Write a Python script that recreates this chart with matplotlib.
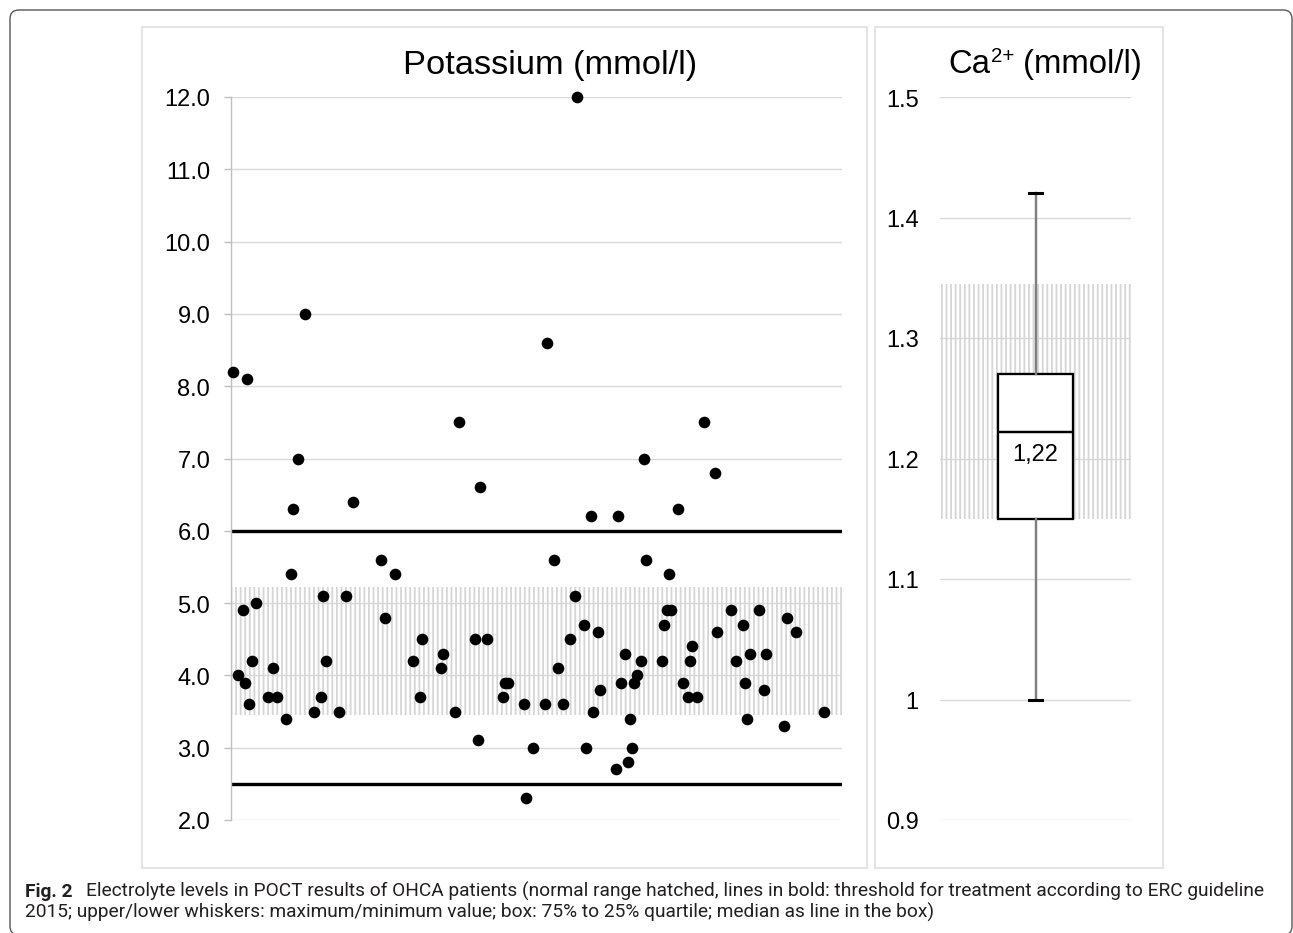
import numpy as np
import matplotlib
matplotlib.use("Agg")
import matplotlib.pyplot as plt
from matplotlib.patches import Rectangle, FancyBboxPatch

# Potassium (mmol/l) per patient, x = patient number
k_idx = [1, 3, 5, 6, 7, 8, 9, 11, 16, 18, 20, 24, 26, 27, 29, 32, 36, 39, 40, 41,
         47, 50, 53, 65, 67, 71, 79, 82, 83, 91, 92, 97, 99, 106, 107, 108, 111, 118, 119, 120,
         127, 128, 131, 136, 137, 140, 142, 144, 147, 149, 150, 153, 154, 156, 157, 159, 160, 167, 168, 169,
         171, 172, 173, 174, 175, 176, 178, 179, 180, 187, 188, 189, 190, 191, 194, 196, 198, 199, 200, 202,
         205, 210, 211, 217, 219, 222, 223, 224, 225, 229, 231, 232, 240, 241, 245, 257]
k_val = [8.2, 4.0, 4.9, 3.9, 8.1, 3.6, 4.2, 5.0, 3.7, 4.1, 3.7, 3.4, 5.4, 6.3, 7.0, 9.0, 3.5, 3.7, 5.1, 4.2,
         3.5, 5.1, 6.4, 5.6, 4.8, 5.4, 4.2, 3.7, 4.5, 4.1, 4.3, 3.5, 7.5, 4.5, 3.1, 6.6, 4.5, 3.7, 3.9, 3.9,
         3.6, 2.3, 3.0, 3.6, 8.6, 5.6, 4.1, 3.6, 4.5, 5.1, 12.0, 4.7, 3.0, 6.2, 3.5, 4.6, 3.8, 2.7, 6.2, 3.9,
         4.3, 2.8, 3.4, 3.0, 3.9, 4.0, 4.2, 7.0, 5.6, 4.2, 4.7, 4.9, 5.4, 4.9, 6.3, 3.9, 3.7, 4.2, 4.4, 3.7,
         7.5, 6.8, 4.6, 4.9, 4.2, 4.7, 3.9, 3.4, 4.3, 4.9, 3.8, 4.3, 3.3, 4.8, 4.6, 3.5]
k_normal = (3.45, 5.22)
k_limits = [6.0, 2.5]
k_ticks = [2.0, 3.0, 4.0, 5.0, 6.0, 7.0, 8.0, 9.0, 10.0, 11.0, 12.0]

# Ca2+ (mmol/l) box plot
ca_stats = {"whislo": 1.00, "q1": 1.15, "med": 1.222, "q3": 1.27, "whishi": 1.42}
ca_normal = (1.15, 1.345)
ca_ticks = [0.9, 1.0, 1.1, 1.2, 1.3, 1.4, 1.5]
ca_ticklabels = ["0.9", "1", "1.1", "1.2", "1.3", "1.4", "1.5"]
ca_median_label = "1,22"

caption_bold = "Fig. 2"
caption_1 = ("Electrolyte levels in POCT results of OHCA patients (normal range hatched, "
             "lines in bold: threshold for treatment according to ERC guideline")
caption_2 = ("2015; upper/lower whiskers: maximum/minimum value; box: 75% to 25% quartile; "
             "median as line in the box)")

plt.rcParams["font.family"] = ["Liberation Sans", "DejaVu Sans"]
plt.rcParams["hatch.linewidth"] = 1.2

W, H, DPI = 1293, 934, 110
fig = plt.figure(figsize=(W / DPI, H / DPI), dpi=DPI)
r = fig.canvas.get_renderer()


def px(x0, y0, x1, y1):
    return [x0 / W, 1 - y1 / H, (x1 - x0) / W, (y1 - y0) / H]


grid_col = "#d9d9d9"
hatch_col = "#d6d6d6"

# panel frames
for box in [(142, 28, 867, 869), (875, 28, 1163, 869)]:
    fig.add_artist(Rectangle(px(*box)[:2], px(*box)[2], px(*box)[3], transform=fig.transFigure,
                             fill=False, ec="#e4e4e4", lw=1.4))
fig.add_artist(FancyBboxPatch((10 / DPI, -2 / DPI), 1282 / DPI, 925 / DPI,
                              boxstyle="round,pad=0,rounding_size=0.08",
                              transform=fig.dpi_scale_trans, fill=False, ec="#555555", lw=0.9))

# potassium scatter
ax1 = fig.add_axes(px(231, 98, 842, 821))
ax1.set_xlim(0, 265)
ax1.set_ylim(2, 12)
ax1.fill_between([0, 265], k_normal[0], k_normal[1], facecolor="none", edgecolor=hatch_col,
                 hatch="||||", lw=0, zorder=1)
for lim in k_limits:
    ax1.axhline(lim, color="black", lw=2.2, zorder=2)
ax1.scatter(k_idx, k_val, s=58, c="black", zorder=3, clip_on=False, linewidths=0)
ax1.set_yticks(k_ticks)
ax1.set_yticklabels(["%.1f" % t for t in k_ticks])
ax1.set_xticks([])
ax1.grid(axis="y", color=grid_col, lw=0.9, zorder=0)
ax1.set_axisbelow(True)
for s in ["top", "right", "bottom"]:
    ax1.spines[s].set_visible(False)
ax1.spines["left"].set_color("#bfbfbf")
ax1.spines["left"].set_linewidth(0.9)
ax1.tick_params(axis="y", length=4.6, width=0.9, color="#bfbfbf", pad=9, labelsize=15.5)

# calcium box plot
ax2 = fig.add_axes(px(940, 98, 1131, 821))
ax2.set_xlim(0.5, 1.5)
ax2.set_ylim(0.9, 1.5)
ax2.fill_between([0.5, 1.5], ca_normal[0], ca_normal[1], facecolor="none", edgecolor=hatch_col,
                 hatch="||||", lw=0, zorder=1)
ax2.bxp([ca_stats], positions=[1], widths=0.39, capwidths=0.072, patch_artist=True,
        showfliers=False, zorder=3,
        boxprops=dict(facecolor="white", edgecolor="black", lw=1.5),
        medianprops=dict(color="black", lw=1.6),
        whiskerprops=dict(color="#7f7f7f", lw=1.6),
        capprops=dict(color="black", lw=2.0))
ax2.text(1.0, 1.204, ca_median_label, ha="center", va="center", fontsize=15.5, zorder=4)
ax2.set_yticks(ca_ticks)
ax2.set_yticklabels(ca_ticklabels)
ax2.set_xticks([])
ax2.grid(axis="y", color=grid_col, lw=0.9, zorder=0)
ax2.set_axisbelow(True)
for s in ax2.spines.values():
    s.set_visible(False)
ax2.tick_params(axis="y", length=0, pad=14, labelsize=15.5)

# titles
fig.text(550 / W, 1 - 74 / H, "Potassium (mmol/l)", ha="center", va="baseline", fontsize=22.5)
t = fig.text(948 / W, 1 - 73 / H, "Ca", va="baseline", fontsize=21.5)
x_end = t.get_window_extent(r).x1
t = fig.text((x_end + 1) / W, 1 - 62 / H, "2+", va="baseline", fontsize=13.5)
x_end = t.get_window_extent(r).x1
fig.text(x_end / W, 1 - 73 / H, " (mmol/l)", va="baseline", fontsize=21.5)

# caption
cap_font = ["Roboto", "DejaVu Sans"]
t = fig.text(25 / W, 1 - 897 / H, caption_bold, fontsize=12.5, fontweight="bold",
             family=cap_font, color="#231f20", va="baseline")
x_end = t.get_window_extent(r).x1
fig.text((x_end + 13) / W, 1 - 897 / H, caption_1, fontsize=12.5, family=cap_font,
         color="#231f20", va="baseline")
fig.text(25 / W, 1 - 918 / H, caption_2, fontsize=12.5, family=cap_font,
         color="#231f20", va="baseline")

fig.savefig("out.png", dpi=DPI)
